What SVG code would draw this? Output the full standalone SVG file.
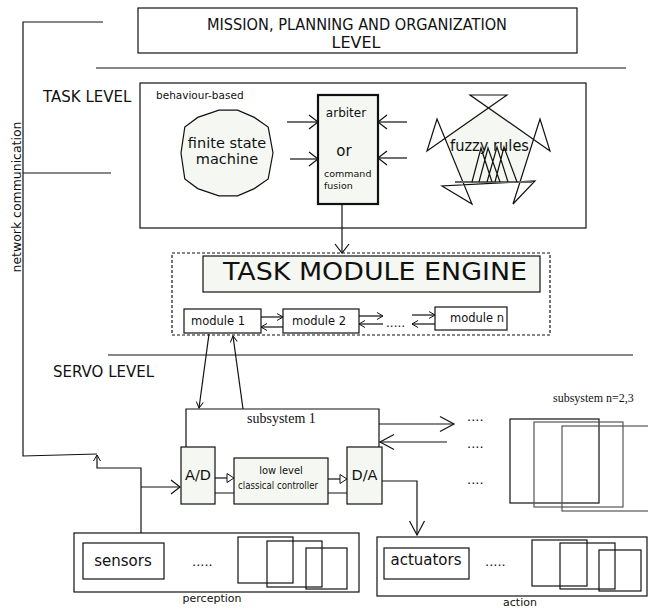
<svg xmlns="http://www.w3.org/2000/svg" width="648" height="610" viewBox="0 0 648 610">
  <style>
    .ln { fill: none; stroke: #111; stroke-width: 1.2; }
    .box { fill: #fff; stroke: #111; stroke-width: 1.2; }
    .pale { fill: #f5f8f2; stroke: #111; stroke-width: 1.2; }
    .grey { fill: none; stroke: #555; stroke-width: 1.2; }
    .sans { font-family: "DejaVu Sans", "Liberation Sans", sans-serif; fill: #111; }
    .cond { font-family: "DejaVu Sans Condensed", "DejaVu Sans", sans-serif; font-stretch: condensed; fill: #111; }
    .serif { font-family: "Liberation Serif", "DejaVu Serif", serif; fill: #111; }
    .mid { text-anchor: middle; }
  </style>
  <defs>
    <marker id="vA" markerUnits="userSpaceOnUse" markerWidth="12" markerHeight="16" refX="10" refY="8" orient="auto" overflow="visible">
      <path d="M1,1 L10,8 L1,15" fill="none" stroke="#111" stroke-width="1.2"/>
    </marker>
    <marker id="vB" markerUnits="userSpaceOnUse" markerWidth="16" markerHeight="18" refX="15" refY="9" orient="auto" overflow="visible">
      <path d="M1,1.5 L15,9 L1,16.5" fill="none" stroke="#111" stroke-width="1.2"/>
    </marker>
    <marker id="vS" markerUnits="userSpaceOnUse" markerWidth="8" markerHeight="8" refX="7" refY="4" orient="auto" overflow="visible">
      <path d="M1,0.5 L7,4 L1,7.5" fill="none" stroke="#111" stroke-width="1"/>
    </marker>
    <marker id="tri" markerUnits="userSpaceOnUse" markerWidth="9" markerHeight="11" refX="8" refY="5.5" orient="auto" overflow="visible">
      <path d="M1,1 L8,5.5 L1,10 Z" fill="#fff" stroke="#111" stroke-width="1"/>
    </marker>
  </defs>

  <!-- level separators -->
  <g id="separators">
    <path class="ln" d="M96,68 H626"/>
    <path class="ln" d="M108,355 H633"/>
  </g>

  <!-- level captions -->
  <g id="captions">
    <text class="sans" x="43" y="102" font-size="15">TASK LEVEL</text>
    <text class="sans" x="53" y="377" font-size="15">SERVO LEVEL</text>
    <text class="sans mid" x="0" y="0" font-size="11.5" textLength="151" lengthAdjust="spacingAndGlyphs" transform="translate(21,197) rotate(-90)">network communication</text>
  </g>

  <g id="mission">
    <rect class="box" x="138" y="8" width="439" height="45"/>
    <text class="sans mid" x="357" y="30" font-size="16" textLength="300" lengthAdjust="spacingAndGlyphs">MISSION, PLANNING AND ORGANIZATION</text>
    <text class="sans mid" x="356" y="48" font-size="16">LEVEL</text>
  </g>

  <g id="task-level">
    <rect class="box" x="140" y="83" width="446" height="145"/>
    <text class="sans" x="156" y="99" font-size="10.5">behaviour-based</text>
  </g>

  <g id="fsm">
    <polygon class="pale" points="273,153 268.2,178.9 254.3,188.6 237.6,195.8 218.9,195.8 197.7,188.6 184.8,178.9 181,153 184.8,127.1 197.7,117.4 218.9,110.2 237.6,110.2 254.3,117.4 268.2,127.1"/>
    <text class="sans mid" x="227" y="148" font-size="14.5">finite state</text>
    <text class="sans mid" x="227" y="163.5" font-size="14.5">machine</text>
  </g>

  <g id="arbiter">
    <rect x="318" y="95" width="60" height="109" fill="#f5f8f2" stroke="#111" stroke-width="2.2"/>
    <text class="sans mid" x="346" y="117" font-size="12">arbiter</text>
    <text class="sans mid" x="344" y="156" font-size="15">or</text>
    <text class="sans" x="324" y="177" font-size="9.5">command</text>
    <text class="sans" x="324" y="189" font-size="9.5">fusion</text>
  </g>

  <g id="fuzzy-rules">
    <polygon points="489,105 533,139 520,182 464,185 445,138" fill="#f5f8f2" stroke="none"/>
    <polygon class="ln" points="507,95 427,151 437,119 472,204 442,186 535,181 513,204 540,119 550,151 470,95"/>
    <text class="sans" x="450" y="151" font-size="15" textLength="79" lengthAdjust="spacingAndGlyphs">fuzzy rules</text>
    <path d="M455,182 H532" fill="none" stroke="#666" stroke-width="2"/>
    <path class="ln" stroke-width="1" d="M472,182 L481,148 L492,182 M479,182 L488,148 L500,182 M487,182 L497,147 L508,182 M495,182 L504,147 L517,182"/>
  </g>

  <g id="task-module-engine">
    <rect x="172" y="253" width="378" height="82" fill="none" stroke="#111" stroke-width="1.2" stroke-dasharray="3,2"/>
    <rect class="pale" x="203" y="256" width="337" height="36"/>
    <text class="sans" x="223" y="280" font-size="24" textLength="304" lengthAdjust="spacingAndGlyphs">TASK MODULE ENGINE</text>
  </g>

  <g id="module-1">
    <rect class="box" x="184" y="309" width="77" height="24"/>
    <text class="sans" x="191" y="325" font-size="11.5">module 1</text>
  </g>
  <g id="module-2">
    <rect class="box" x="283" y="309" width="76" height="24"/>
    <text class="sans" x="292" y="325" font-size="11.5">module 2</text>
  </g>
  <g id="module-n">
    <rect class="box" x="435" y="307" width="72" height="23"/>
    <text class="sans" x="450" y="322" font-size="11.5">module n</text>
  </g>
  <text class="sans" x="386" y="327" font-size="12">.....</text>

  <g id="subsystem-1">
    <path class="ln" d="M186,447 V409 H379 V447"/>
    <text class="serif" x="247" y="423" font-size="14">subsystem 1</text>
  </g>
  <g id="ad">
    <rect class="pale" x="181" y="447" width="34" height="57"/>
    <text class="sans mid" x="198" y="480" font-size="14.5">A/D</text>
  </g>
  <g id="controller">
    <rect class="pale" x="234" y="458" width="94" height="46"/>
    <text class="cond mid" x="281" y="474" font-size="11">low level</text>
    <text class="cond mid" x="278" y="489" font-size="11" textLength="80" lengthAdjust="spacingAndGlyphs">classical controller</text>
  </g>
  <g id="da">
    <rect class="pale" x="347" y="447" width="35" height="57"/>
    <text class="sans mid" x="364.5" y="480" font-size="14.5">D/A</text>
  </g>

  <g id="subsystem-n">
    <text class="serif" x="553" y="402" font-size="12">subsystem n=2,3</text>
    <rect class="ln" x="510" y="419" width="89" height="84"/>
    <rect class="grey" x="534" y="422" width="89" height="85"/>
    <rect class="grey" x="562" y="426" width="90" height="85"/>
  </g>
  <g id="channel-dots">
    <text class="sans" x="467" y="421" font-size="13">....</text>
    <text class="sans" x="467" y="448" font-size="13">....</text>
    <text class="sans" x="467" y="484" font-size="13">....</text>
  </g>

  <g id="perception">
    <rect class="box" x="74" y="533" width="285" height="59"/>
    <rect class="box" x="83" y="543" width="81" height="36"/>
    <text class="sans mid" x="123" y="566" font-size="15">sensors</text>
    <text class="sans" x="192" y="566" font-size="13">.....</text>
    <rect class="ln" x="238" y="537" width="55" height="46"/>
    <rect class="ln" x="267" y="541" width="55" height="46"/>
    <rect class="ln" x="306" y="548" width="41" height="41"/>
    <text class="sans mid" x="212" y="602" font-size="11">perception</text>
  </g>

  <g id="action">
    <rect class="box" x="377" y="537" width="270" height="59"/>
    <rect class="box" x="384" y="548" width="85" height="31"/>
    <text class="sans mid" x="426" y="564.5" font-size="15">actuators</text>
    <text class="sans" x="485" y="566" font-size="13">.....</text>
    <rect class="ln" x="532" y="540" width="55" height="46"/>
    <rect class="ln" x="560" y="543" width="55" height="46"/>
    <rect class="ln" x="599" y="550" width="42" height="41"/>
    <text class="sans mid" x="520" y="606" font-size="11">action</text>
  </g>

  <g id="connectors">
    <!-- network communication bus -->
    <path class="ln" d="M103,22 H23 V456 L97,454"/>
    <path class="ln" d="M23,173 H111"/>
    <path class="ln" d="M141,533 V468 H97 V455" marker-end="url(#vS)"/>
    <path class="ln" d="M141,487 H180" marker-end="url(#vA)"/>
    <!-- inputs to the arbiter -->
    <path class="ln" d="M287,122 H318" marker-end="url(#vA)"/>
    <path class="ln" d="M290,159 H318" marker-end="url(#vA)"/>
    <path class="ln" d="M407,122 H378" marker-end="url(#vA)"/>
    <path class="ln" d="M407,158 H378" marker-end="url(#vA)"/>
    <path class="ln" d="M342,204 V253" marker-end="url(#vA)"/>
    <!-- module chain -->
    <path class="ln" d="M261,317 H283" marker-end="url(#vS)"/>
    <path class="ln" d="M283,327 H261" marker-end="url(#vS)"/>
    <path class="ln" d="M359,316 H383" marker-end="url(#vS)"/>
    <path class="ln" d="M383,324 H359" marker-end="url(#vS)"/>
    <path class="ln" d="M412,315 H435" marker-end="url(#vS)"/>
    <path class="ln" d="M435,324 H412" marker-end="url(#vS)"/>
    <!-- module 1 to subsystem 1 -->
    <path class="ln" d="M209,334 L199,408" marker-end="url(#vS)"/>
    <path class="ln" d="M243,409 L233,336" marker-end="url(#vS)"/>
    <!-- inside subsystem 1 -->
    <path class="ln" d="M215,478 H234" marker-end="url(#tri)"/>
    <path class="ln" d="M328,479 H347" marker-end="url(#tri)"/>
    <path class="ln" d="M215,493 H234 M328,493 H347"/>
    <!-- to other subsystems -->
    <path class="ln" d="M379,424 H454" marker-end="url(#vB)"/>
    <path class="ln" d="M447,442 H380" marker-end="url(#vB)"/>
    <!-- D/A to actuators -->
    <path class="ln" d="M382,481 H417 V535" marker-end="url(#vB)"/>
  </g>
</svg>
